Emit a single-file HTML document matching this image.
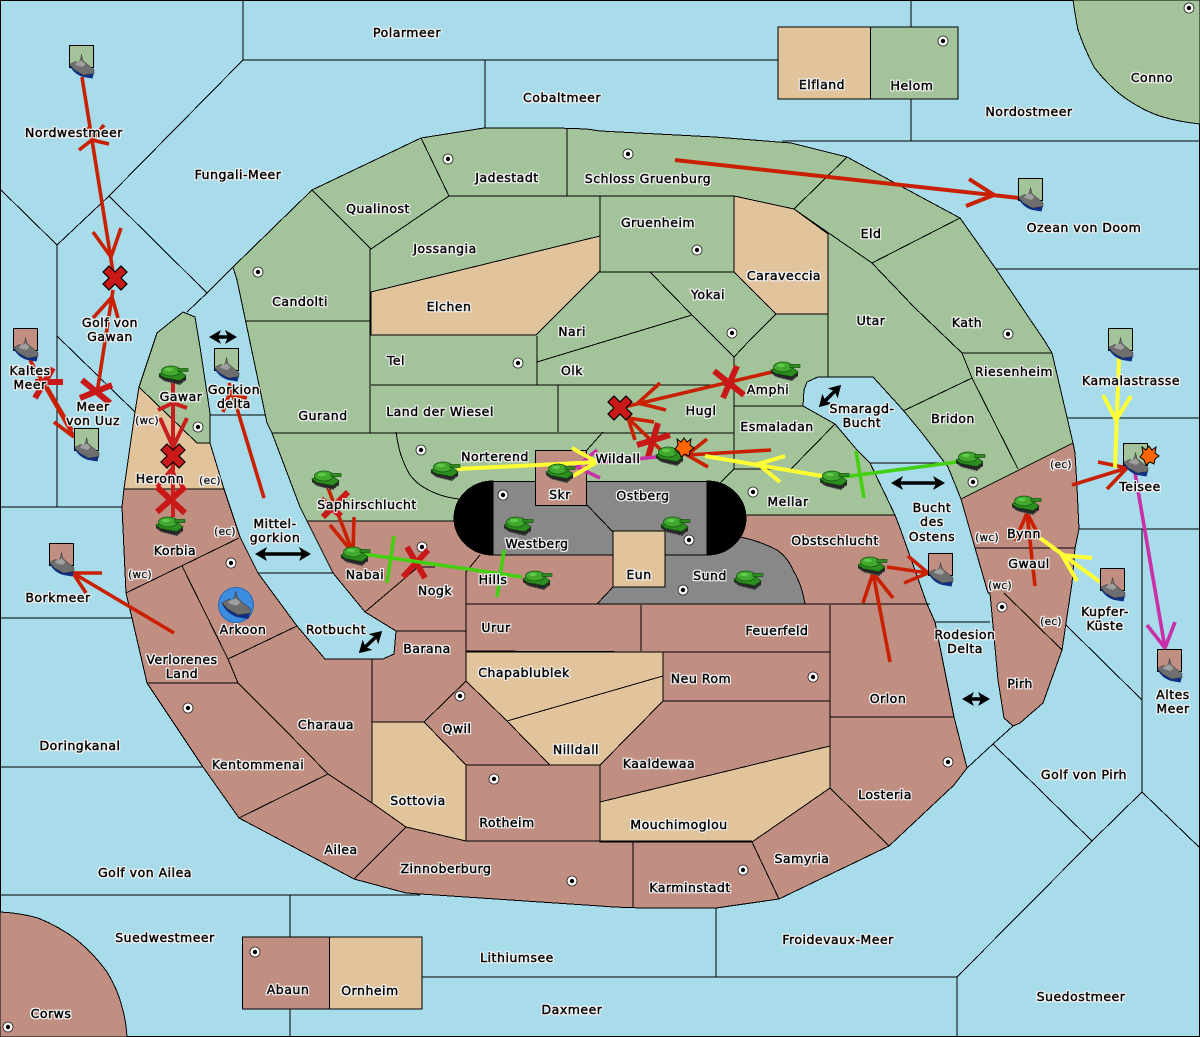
<!DOCTYPE html>
<html><head><meta charset="utf-8"><title>Map</title>
<style>
html,body{margin:0;padding:0;background:#a8dcea}
svg{display:block}
.l{fill:none;stroke:#000;stroke-width:1}
.t text{font-family:"DejaVu Sans","Liberation Sans",sans-serif;font-size:12.5px;letter-spacing:.5px;text-anchor:middle;fill:#000;stroke:#000;stroke-width:.65}
.t text.s{font-size:10.5px;letter-spacing:.3px;stroke-width:.5}
</style></head><body>
<svg xmlns="http://www.w3.org/2000/svg" width="1200" height="1037" viewBox="0 0 1200 1037">
<defs>
<filter id="h" filterUnits="userSpaceOnUse" x="0" y="0" width="1200" height="1037">
<feMorphology in="SourceAlpha" operator="dilate" radius="1" result="d"/>
<feFlood flood-color="#f4f4f4"/><feComposite in2="d" operator="in" result="w"/>
<feMerge><feMergeNode in="w"/><feMergeNode in="SourceGraphic"/></feMerge>
</filter>
<g id="tank">
<path d="M0 8 L0 11 L5 15 L21 19 L27 14 L27 9 L4 6Z" fill="#262626"/>
<path d="M2 12.500 L6 15 L21 18.500 L26 14" stroke="#777" stroke-width="1" stroke-dasharray="1.500 1.500" fill="none"/>
<path d="M0 8 L6 5 L22 6 L27 10 L21 14.500 L5 11.500Z" fill="#2d8f20" stroke="#14560f" stroke-width=".8"/>
<ellipse cx="12" cy="5" rx="9.500" ry="5" fill="#41aa2e" stroke="#14560f" stroke-width=".8"/>
<ellipse cx="10" cy="3.500" rx="4" ry="1.600" fill="#63c94c"/>
<rect x="19" y="2.500" width="10" height="3" fill="#2f8a22" stroke="#14560f" stroke-width=".7"/>
</g>
<g id="ship">
<path d="M0 20 C3 26 8 30 14 31.500 L23 33 L24.500 27 L0 20Z" fill="#0d2f86"/>
<path d="M0 19 L6 16 L9 17 L11 14 L12 9 L13.500 15 L17 18 L24.500 24 L24.500 28 L14 29.500 L5 24.500Z" fill="#6e6e6e" stroke="#333" stroke-width=".5"/>
<path d="M6 17.500 L12 15 L16 18.500 L13 21.500 L6 19.500Z" fill="#a0a0a0"/>
</g>
<g id="g"><rect width="24" height="22" fill="#a3c49a" stroke="#000"/><use href="#ship"/></g>
<g id="b"><rect width="24" height="22" fill="#c18e82" stroke="#000"/><use href="#ship"/></g>
<path id="x" d="M-6 -12 L0 -6 L6 -12 L12 -6 L6 0 L12 6 L6 12 L0 6 L-6 12 L-12 6 L-6 0 L-12 -6Z" fill="#c81818" stroke="#000" stroke-width="1.2"/>
<g id="dot"><circle r="5" fill="#fff" stroke="#222" stroke-width=".8"/><circle r="2.200" fill="#000"/></g>
<polygon id="burst" points="0,-10 3,-6 7,-9 6,-3 10,0 6,3 5,8 1,6 -3,9 -5,4 -9,1 -6,-3 -7,-9 -3,-6" fill="#f60" stroke="#000" stroke-width="1"/>
<marker id="ah" markerUnits="userSpaceOnUse" markerWidth="14" markerHeight="14" refX="9" refY="7" orient="auto-start-reverse"><path d="M0 0 L12 7 L0 14 L3 7Z" fill="#000"/></marker>
</defs>

<rect width="1200" height="1037" fill="#a8dcea"/>
<g class="l" shape-rendering="crispEdges">
<rect x=".5" y=".5" width="1199" height="1036"/>
<path d="M243 0V60H778M485 60V128M243 60L109 196L57 245L0 189M57 245V507M109 196L207 293L233 267M207 293L187 312M57 336L135 412M0 507H122M0 618H132M0 767H203M0 895H420M290 895V937M290 1009V1037M422 977H957V1037M716 908V977M957 977L1092 841L993 744L967 768M993 744L1013 726M1092 841L1142 792L1200 848M1142 529V792M1142 700L1066 625M1079 529H1200M1068 418H1200M996 269H1200M782 141H1200M911 0V27M911 99V141M210 415H267M258 573H333M870 463H948M935 622H990"/>
</g>

<!-- land fills -->
<g stroke="#000" stroke-width="1" shape-rendering="crispEdges">
<polygon fill="#c18e82" points="300,507 307,521 480,521 746,515 895,515 900,528 927,604 935,622 954,717 967,768 954,785 889,846 779,899 716,908 643,908 613,907 600,906 406,893 354,879 239,818 203,767 147,683 132,618 126,593 122,507 124,489 224,489 240,537 258,573 297,626 325,659 383,659 394,654 396,631 365,612 333,573"/>
<polygon fill="#a3c49a" points="233,267 312,190 421,138 484,128 557,128 587,129 600,131 715,137 791,143 847,157 895,183 960,218 996,269 1044,340 1052,353 1073,443 961,499 948,467 922,433 903,410 873,377 818,377 807,382 804,390 803,406 835,424 857,450 870,463 895,515 746,515 700,521 307,521 300,507 272,433 267,423 237,280"/>
<polygon fill="#a3c49a" points="139,387 157,333 183,312 195,317 200,347 210,413 210,443 197,443"/>
<polygon fill="#e2c49c" points="139,387 197,443 210,443 224,489 124,489 135,412"/>
<polygon fill="#c18e82" points="961,499 1073,443 1075,453 1077,487 1079,529 1075,548 1072,583 1062,650 1043,703 1020,723 1013,726 1004,718 998,680 990,593 988,593 975,548"/>
<polygon fill="#e2c49c" points="371,292 600,236 600,271 536,335 371,335"/>
<polygon fill="#e2c49c" points="734,196 794,209 828,234 828,314 776,314 734,272"/>
<polygon fill="#e2c49c" points="372,722 424,722 466,765 466,841 406,827 372,803"/>
<polygon fill="#e2c49c" points="466,651 663,652 663,701 600,765 550,765 507,721 466,681"/>
<polygon fill="#e2c49c" points="830,746 830,788 752,842 600,842 600,802"/>
<rect x="778" y="27" width="92.500" height="72" fill="#e2c49c"/>
<rect x="870.500" y="27" width="87.500" height="72" fill="#a3c49a"/>
<rect x="242.500" y="937" width="87" height="72" fill="#c18e82"/>
<rect x="329.500" y="937" width="92.500" height="72" fill="#e2c49c"/>
<path fill="#a3c49a" d="M1073 0 Q1076 20 1078 30 Q1085 50 1094 67 Q1110 88 1128 100 Q1146 112 1163 117 Q1180 122 1200 124 V0Z"/>
<path fill="#c18e82" d="M0 912 Q20 913 38 918 Q60 927 77 940 Q95 955 107 972 Q118 990 122 1007 Q126 1020 127 1037 H0Z"/>
<!-- centre -->
<path fill="#888" d="M597 604 L613 587 H665 V555 H707 L740 537 Q760 541 777 550 Q788 558 793 570 Q802 585 805 604Z"/>
<rect x="493" y="481.500" width="214" height="73.500" fill="#888"/>
<path fill="#000" d="M493 481 A39 37 0 0 0 493 555Z"/>
<path fill="#000" d="M707 481 A39 37 0 0 1 707 555Z"/>
<rect x="535.500" y="450.500" width="51" height="55" fill="#c18e82"/>
<rect x="613" y="531" width="52" height="56" fill="#e2c49c"/>
</g>

<!-- inner borders -->
<g class="l" shape-rendering="crispEdges">
<path d="M245 321H370M370 249V433M272 433H734M371 385H734M537 336V385M558 385V432M537 362L692 315M650 272L692 315L734 357L750 340L776 314M449 196H734M600 196V272H734M567 129V196M421 138L449 196L371 249L312 190M734 357V469H791L835 424M734 406H803M828 234V377M847 157L794 209L872 263L960 218M872 263L914 307L962 353H1052M962 353L972 378L1018 469M972 378L903 411M720 483L734 469M587 450L603 432M587 505L613 532M396 432Q398 445 400 452Q404 465 410 475Q417 484 425 488Q440 497 459 499"/>
<path d="M365 612L418 567H435M480 555L466 572V681M466 604H930M466 652H830M641 605V651M830 605V788M663 652V701H830M830 717H954M830 788L889 846M830 788L752 842L779 899M633 842V907M466 841H752M466 765H600V841M466 765L424 722L466 681M424 722H372M372 659V803M396 631H466M406 827L354 879M328 774L239 818M238 683L285 730L328 774L372 803L406 827M147 683H238M182 566L228 659L238 683M126 593L239 538M228 659L297 626M507 721L663 676M600 765L663 701M830 746L600 802M1004 593L1062 650M975 548H1075"/>
</g>

<!-- dots -->
<g>
<use href="#dot" x="448" y="159"/><use href="#dot" x="628" y="154"/><use href="#dot" x="697" y="250"/><use href="#dot" x="732" y="333"/><use href="#dot" x="258" y="272"/><use href="#dot" x="518" y="363"/><use href="#dot" x="198" y="427"/><use href="#dot" x="421" y="450"/><use href="#dot" x="503" y="495"/><use href="#dot" x="689" y="540"/><use href="#dot" x="683" y="590"/><use href="#dot" x="973" y="482"/><use href="#dot" x="1008" y="334"/><use href="#dot" x="943" y="41"/><use href="#dot" x="1189" y="8"/><use href="#dot" x="422" y="547"/><use href="#dot" x="231" y="563"/><use href="#dot" x="188" y="708"/><use href="#dot" x="460" y="696"/><use href="#dot" x="494" y="779"/><use href="#dot" x="813" y="677"/><use href="#dot" x="948" y="762"/><use href="#dot" x="743" y="870"/><use href="#dot" x="572" y="881"/><use href="#dot" x="255" y="952"/><use href="#dot" x="8" y="1027"/><use href="#dot" x="1002" y="607"/><use href="#dot" x="753" y="492"/>
</g>

<!-- black double arrows -->
<g stroke="#000" stroke-width="3.500" fill="none">
<line x1="212" y1="337" x2="234" y2="337" marker-start="url(#ah)" marker-end="url(#ah)"/>
<line x1="258" y1="554" x2="308" y2="554" marker-start="url(#ah)" marker-end="url(#ah)"/>
<line x1="821" y1="405" x2="839" y2="387" marker-start="url(#ah)" marker-end="url(#ah)"/>
<line x1="894" y1="483" x2="942" y2="483" marker-start="url(#ah)" marker-end="url(#ah)"/>
<line x1="361" y1="651" x2="380" y2="633" marker-start="url(#ah)" marker-end="url(#ah)"/>
<line x1="965" y1="699" x2="987" y2="699" marker-start="url(#ah)" marker-end="url(#ah)"/>
</g>

<!-- arrows -->
<g fill="none" stroke="#c82000" stroke-width="3.600">
<path d="M82 77L113 272M93 232L111 257L121 228"/>
<path d="M79 150L92 140L109 144M88 127L92 140L104 125"/>
<path d="M97 393L113 290M93 318L112 297L118 318"/>
<path d="M30 360L73 435M54 422L74 437M47 387L72 430"/>
<path d="M264 498L236 405L229 383M223 412L229 395L247 398"/>
<path d="M174 633L73 573M102 573L73 573L86 593"/>
<path d="M328 488L353 553M330 525L353 553L354 517"/>
<path d="M772 372L620 408M660 383L638 403L666 410"/>
<path d="M663 452L625 415M635 440L628 418L654 422"/>
<path d="M771 450L687 455M707 439L687 455L708 467"/>
<path d="M887 567L928 573M908 556L928 573L904 583"/>
<path d="M890 662L873 573M863 603L873 573L893 598"/>
<path d="M1035 586L1027 513M1015 541L1027 513L1040 538"/>
<path d="M1072 485L1127 468M1098 462L1127 468L1107 489"/>
<path stroke-width="4" d="M675 160L1019 198M969 179L994 195L966 206"/>
</g>
<g fill="none" stroke="#c81e1e" stroke-width="4">
<path d="M173 380V517"/><path d="M158 410L173 403L187 408M160 418L173 447L187 418M157 487L171 470L185 490"/>
</g>
<g fill="none" stroke="#c81818" stroke-width="6">
<path d="M82 380L110 403M112 385L80 398"/>
<path d="M35 382H63M53 368L35 398"/>
<path d="M157 487L185 513M185 487L157 512"/>
<path d="M714 371L744 395M737 366L723 398"/>
<path d="M658 423L648 457M637 445L670 435"/>
<path d="M348 492L323 517M321 499L341 516"/>
<path d="M407 547L425 578M428 550L403 577"/>
</g>
<use href="#x" x="115" y="278"/>
<use href="#x" x="173" y="456"/>
<use href="#x" x="620" y="408"/>

<g fill="none" stroke="#c82fa8" stroke-width="3.600">
<path d="M656 457L585 464M597 450L577 467L600 478"/>
<path d="M1135 473L1165 648M1147 625L1165 648L1175 622"/>
</g>
<g fill="none" stroke="#ffff33" stroke-width="4">
<path d="M457 469L597 462M572 448L597 462L573 476"/>
<path d="M822 476L705 456M785 456L758 464L780 482"/>
<path d="M1119 358L1115 468M1103 395L1116 420L1131 396"/>
<path d="M1100 582L1040 538M1092 558L1062 555L1077 581"/>
</g>
<g fill="none" stroke="#44d011" stroke-width="3.600">
<path d="M522 577L357 553M504 550L497 597M394 536L387 583"/>
<path d="M957 462L843 477M856 451L864 498"/>
</g>

<!-- units -->
<use href="#tank" x="159" y="366"/><use href="#tank" x="156" y="517"/><use href="#tank" x="312" y="471"/><use href="#tank" x="431" y="462"/><use href="#tank" x="546" y="464"/><use href="#tank" x="504" y="517"/><use href="#tank" x="341" y="547"/><use href="#tank" x="523" y="571"/><use href="#tank" x="771" y="362"/><use href="#tank" x="656" y="447"/><use href="#tank" x="661" y="517"/><use href="#tank" x="734" y="571"/><use href="#tank" x="820" y="471"/><use href="#tank" x="858" y="557"/><use href="#tank" x="956" y="452"/><use href="#tank" x="1012" y="496"/>
<use href="#g" x="69.500" y="45.500"/><use href="#g" x="1018.500" y="178.500"/><use href="#b" x="13.500" y="328.500"/><use href="#g" x="74.500" y="428.500"/><use href="#g" x="214.500" y="348.500"/><use href="#b" x="49.500" y="543.500"/><use href="#b" x="928.500" y="553.500"/><use href="#g" x="1108.500" y="328.500"/><use href="#g" x="1123.500" y="443.500"/><use href="#b" x="1100.500" y="568.500"/><use href="#b" x="1157.500" y="649.500"/>
<circle cx="236" cy="605" r="17.500" fill="#3c8ce0" stroke="#2568b5" stroke-width="1"/>
<use href="#ship" transform="translate(222 581) scale(1.15)"/>
<use href="#burst" x="684" y="448"/><use href="#burst" x="1149" y="456"/>

<!-- labels -->
<g class="t" filter="url(#h)">
<text x="407" y="37">Polarmeer</text><text x="562" y="102">Cobaltmeer</text><text x="822" y="89">Elfland</text><text x="912" y="90">Helom</text><text x="1152" y="82">Conno</text><text x="1029" y="116">Nordostmeer</text><text x="74" y="137">Nordwestmeer</text><text x="238" y="179">Fungali-Meer</text><text x="507" y="182">Jadestadt</text><text x="648" y="183">Schloss Gruenburg</text><text x="378" y="213">Qualinost</text><text x="658" y="227">Gruenheim</text><text x="871" y="238">Eld</text><text x="1084" y="232">Ozean von Doom</text><text x="445" y="253">Jossangia</text><text x="784" y="280">Caraveccia</text><text x="300" y="306">Candolti</text><text x="449" y="311">Elchen</text><text x="708" y="299">Yokai</text><text x="871" y="325">Utar</text><text x="967" y="327">Kath</text><text x="572" y="336">Nari</text><text x="396" y="365">Tel</text><text x="572" y="375">Olk</text><text x="1014" y="376">Riesenheim</text><text x="1131" y="385">Kamalastrasse</text><text x="768" y="394">Amphi</text><text x="440" y="416">Land der Wiesel</text><text x="323" y="420">Gurand</text><text x="701" y="415">Hugl</text><text x="862" y="413">Smaragd-</text><text x="862" y="427">Bucht</text><text x="953" y="423">Bridon</text><text x="777" y="431">Esmaladan</text><text x="110" y="327">Golf von</text><text x="110" y="341">Gawan</text><text x="30" y="375">Kaltes</text><text x="30" y="389">Meer</text><text x="181" y="401">Gawar</text><text x="93" y="411">Meer</text><text x="93" y="425">von Uuz</text><text x="234" y="394">Gorkion</text><text x="234" y="408">delta</text><text class="s" x="147" y="424">(wc)</text><text x="160" y="483">Heronn</text><text class="s" x="210" y="484">(ec)</text><text x="495" y="461">Norterend</text><text x="618" y="463">Wildall</text><text x="560" y="499">Skr</text><text x="643" y="500">Ostberg</text><text x="788" y="506">Mellar</text><text x="1140" y="491">Teisee</text><text class="s" x="1061" y="468">(ec)</text><text x="367" y="509">Saphirschlucht</text><text x="932" y="512">Bucht</text><text x="932" y="526">des</text><text x="932" y="541">Ostens</text><text x="275" y="528">Mittel-</text><text x="275" y="542">gorkion</text><text class="s" x="225" y="535">(ec)</text><text x="1024" y="538">Bynn</text><text class="s" x="987" y="541">(wc)</text><text x="175" y="555">Korbia</text><text x="537" y="548">Westberg</text><text x="835" y="545">Obstschlucht</text><text x="1029" y="568">Gwaul</text><text x="365" y="579">Nabai</text><text class="s" x="140" y="578">(wc)</text><text x="710" y="580">Sund</text><text x="639" y="579">Eun</text><text x="493" y="584">Hills</text><text x="435" y="595">Nogk</text><text class="s" x="1000" y="589">(wc)</text><text x="58" y="602">Borkmeer</text><text x="1105" y="616">Kupfer-</text><text x="1105" y="630">Küste</text><text class="s" x="1051" y="625">(ec)</text><text x="777" y="635">Feuerfeld</text><text x="496" y="632">Urur</text><text x="243" y="634">Arkoon</text><text x="336" y="634">Rotbucht</text><text x="965" y="639">Rodesion</text><text x="965" y="653">Delta</text><text x="427" y="653">Barana</text><text x="182" y="664">Verlorenes</text><text x="182" y="678">Land</text><text x="701" y="683">Neu Rom</text><text x="524" y="677">Chapablublek</text><text x="1020" y="688">Pirh</text><text x="888" y="703">Orlon</text><text x="1173" y="699">Altes</text><text x="1173" y="713">Meer</text><text x="418" y="805">Sottovia</text><text x="326" y="729">Charaua</text><text x="457" y="733">Qwil</text><text x="80" y="750">Doringkanal</text><text x="576" y="754">Nilldall</text><text x="258" y="769">Kentommenai</text><text x="659" y="768">Kaaldewaa</text><text x="1084" y="779">Golf von Pirh</text><text x="885" y="799">Losteria</text><text x="507" y="827">Rotheim</text><text x="679" y="829">Mouchimoglou</text><text x="341" y="854">Ailea</text><text x="802" y="863">Samyria</text><text x="446" y="873">Zinnoberburg</text><text x="145" y="877">Golf von Ailea</text><text x="690" y="892">Karminstadt</text><text x="165" y="942">Suedwestmeer</text><text x="838" y="944">Froidevaux-Meer</text><text x="517" y="962">Lithiumsee</text><text x="288" y="994">Abaun</text><text x="370" y="995">Ornheim</text><text x="1081" y="1001">Suedostmeer</text><text x="572" y="1014">Daxmeer</text><text x="51" y="1018">Corws</text>
</g>
</svg>
</body></html>
